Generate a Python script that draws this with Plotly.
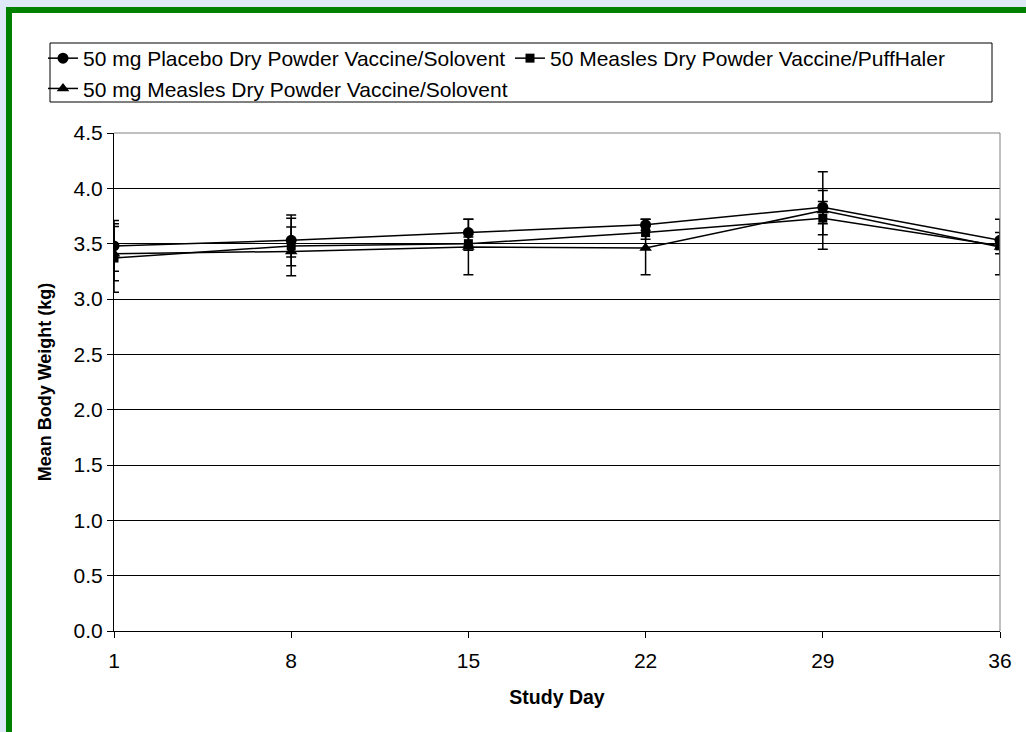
import plotly.graph_objects as go

days = [1, 8, 15, 22, 29, 36]
tick_days = [1, 8, 15, 22, 29, 36]

placebo_name = "50 mg Placebo Dry Powder Vaccine/Solovent"
placebo = [3.48, 3.53, 3.60, 3.67, 3.83, 3.53]
placebo_err_plus = [0.23, 0.23, 0.12, 0.05, 0.15, 0.07]
placebo_err_minus = [0.23, 0.23, 0.12, 0.05, 0.15, 0.07]

puff_name = "50 Measles Dry Powder Vaccine/PuffHaler"
puff = [3.37, 3.48, 3.50, 3.60, 3.73, 3.48]
puff_err_plus = [0.31, 0.25, 0.06, 0.06, 0.15, 0.07]
puff_err_minus = [0.31, 0.10, 0.06, 0.06, 0.15, 0.07]

solo_name = "50 mg Measles Dry Powder Vaccine/Solovent"
solo = [3.41, 3.43, 3.47, 3.46, 3.80, 3.47]
solo_err_plus = [0.245, 0.22, 0.25, 0.26, 0.35, 0.25]
solo_err_minus = [0.245, 0.22, 0.25, 0.24, 0.35, 0.25]

W, H = 1026, 732
L, R, T, B = 114, 26, 133, 101
PW, PH = W - L - R, H - T - B

def px(x):
    return (x - L) / PW

def py(y):
    return (H - B - y) / PH

FONT = "Liberation Sans, Arial, sans-serif"

fig = go.Figure()

def add(name, y, ep, em, symbol, size):
    fig.add_trace(go.Scatter(
        x=days, y=y, name=name, mode="lines+markers",
        line=dict(color="black", width=1.5),
        marker=dict(symbol=symbol, size=size, color="black"),
        error_y=dict(type="data", array=ep, arrayminus=em, symmetric=False,
                     color="black", thickness=1.5, width=5),
    ))

add(placebo_name, placebo, placebo_err_plus, placebo_err_minus, "circle", 11)
add(puff_name, puff, puff_err_plus, puff_err_minus, "square", 9)
add(solo_name, solo, solo_err_plus, solo_err_minus, "triangle-up", 11)

shapes = [
    # green frame
    dict(type="rect", xref="paper", yref="paper", layer="below",
         x0=px(9), x1=px(1045), y0=py(10), y1=py(750),
         line=dict(color="#008000", width=6), fillcolor="white"),
    # legend box
    dict(type="rect", xref="paper", yref="paper", layer="above",
         x0=px(50), x1=px(992), y0=py(43), y1=py(102),
         line=dict(color="black", width=1), fillcolor="rgba(0,0,0,0)"),
    # gray plot frame (top, right)
    dict(type="line", xref="paper", yref="paper", layer="above",
         x0=0, x1=1, y0=1, y1=1, line=dict(color="#808080", width=1)),
    dict(type="line", xref="paper", yref="paper", layer="above",
         x0=1, x1=1, y0=0, y1=1, line=dict(color="#808080", width=1)),
]

fig.update_layout(
    width=W, height=H,
    margin=dict(l=L, r=R, t=T, b=B, autoexpand=False),
    paper_bgcolor="#dfe8f6",
    plot_bgcolor="white",
    font=dict(family=FONT, size=21, color="black"),
    showlegend=True,
    legend=dict(orientation="h", x=px(43), y=py(38), xanchor="left", yanchor="top",
                entrywidth=422, entrywidthmode="pixels",
                bgcolor="rgba(0,0,0,0)", borderwidth=0,
                font=dict(family=FONT, size=21), itemwidth=30),
    shapes=shapes,
    xaxis=dict(range=[1, 36], tickmode="array", tickvals=tick_days,
               ticktext=[str(d) for d in tick_days],
               showgrid=False, zeroline=False, showline=True, linecolor="black", linewidth=1,
               ticks="outside", ticklen=6, tickcolor="black", ticklabelstandoff=5,
               tickfont=dict(family=FONT, size=21),
               title=dict(text="<b>Study Day</b>", font=dict(family=FONT, size=19.5), standoff=19),
               automargin=False),
    yaxis=dict(range=[0, 4.5], dtick=0.5, tick0=0, tickformat=".1f",
               showgrid=True, gridcolor="black", gridwidth=1,
               zeroline=False, showline=True, linecolor="black", linewidth=1,
               ticks="outside", ticklen=6, tickcolor="black",
               tickfont=dict(family=FONT, size=21),
               title=dict(text="<b>Mean Body Weight (kg)</b>", font=dict(family=FONT, size=18), standoff=17),
               automargin=False),
)

fig.write_html(
    "out.html",
    config={"displayModeBar": False},
    post_script="document.body.style.margin='0';document.body.style.background='#dfe8f6';",
)
